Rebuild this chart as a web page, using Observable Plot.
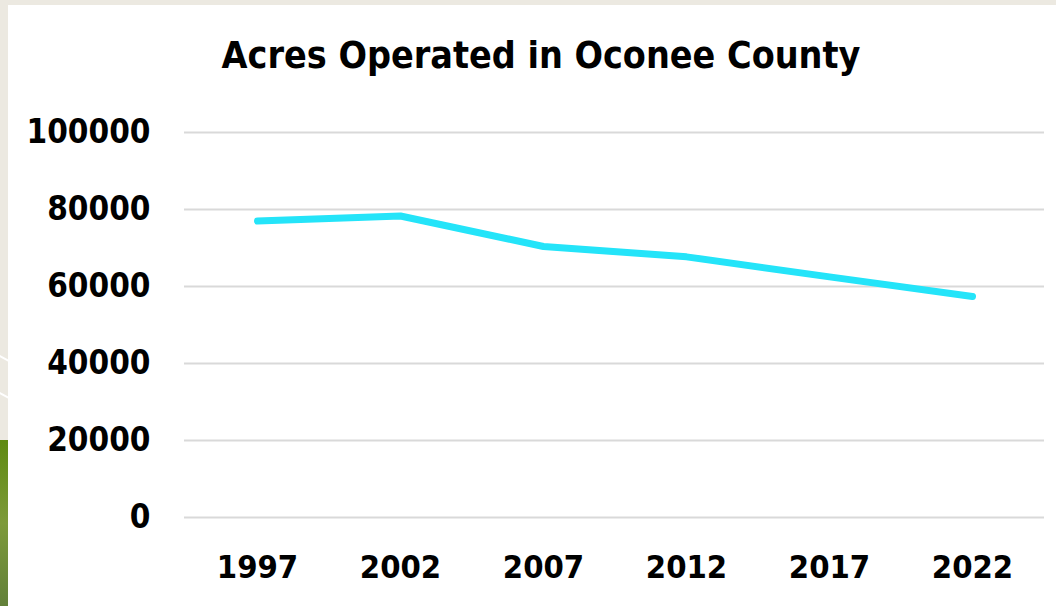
<!DOCTYPE html>
<html>
<head>
<meta charset="utf-8">
<script src="https://cdn.jsdelivr.net/npm/d3@7"></script>
<script src="https://cdn.jsdelivr.net/npm/@observablehq/plot@0.6"></script>
<style>
  html, body { margin: 0; padding: 0; }
  body { width: 1056px; height: 606px; background: #ece9e1; position: relative; overflow: hidden; }
  #card { position: absolute; left: 8px; top: 5px; width: 1048px; height: 601px; background: #ffffff; }
  #green { position: absolute; left: 0; top: 440px; width: 8px; height: 166px;
           background: linear-gradient(180deg, #5e8a10 0%, #7d9a3a 50%, #62803a 100%); }
  .streak { position: absolute; left: 0; width: 12px; height: 2px; background: #ffffff; transform: rotate(28deg); transform-origin: 0 0; }
  #title { position: absolute; left: 8px; width: 1048px; top: 33px; text-align: center;
           font-family: "DejaVu Sans Condensed", "DejaVu Sans", sans-serif; font-weight: bold;
           font-size: 37.3px; color: #000; padding-left: 18px; box-sizing: border-box; }
  #chart { position: absolute; left: 8px; top: 100px; }
</style>
</head>
<body>
<div id="card"></div>
<div id="green"></div>
<div class="streak" style="top:355px"></div>
<div class="streak" style="top:392px"></div>
<div id="title">Acres Operated in Oconee County</div>
<div id="chart"></div>
<script>
const years = ["1997", "2002", "2007", "2012", "2017", "2022"];
const acres = [77000, 78300, 70400, 67700, 62500, 57400];
const yTicks = [0, 20000, 40000, 60000, 80000, 100000];

const data = years.map((y, i) => ({year: y, acres: acres[i]}));

const chart = Plot.plot({
  width: 1048,
  height: 506,
  marginLeft: 176,
  marginRight: 12,
  marginTop: 32,
  marginBottom: 89,
  style: {
    fontFamily: '"DejaVu Sans Condensed", "DejaVu Sans", sans-serif',
    fontWeight: "bold",
    fontSize: "32px",
    color: "#000",
    background: "transparent",
    overflow: "visible"
  },
  x: { type: "point", domain: years, padding: 0.5, label: null },
  y: { domain: [0, 100000], label: null },
  marks: [
    Plot.gridY(yTicks, { stroke: "#d9d9d9", strokeOpacity: 1, strokeWidth: 2 }),
    Plot.axisY(yTicks, { tickSize: 0, tickPadding: 34, tickFormat: d => String(d), fill: "#000", fontSize: 33 }),
    Plot.axisX({ tickSize: 0, tickPadding: 37, fill: "#000", fontSize: 32.5 }),
    Plot.line(data, { x: "year", y: "acres", stroke: "#24e4f9", strokeWidth: 7, strokeLinecap: "round", strokeLinejoin: "round" })
  ]
});
document.getElementById("chart").appendChild(chart);
</script>
</body>
</html>
